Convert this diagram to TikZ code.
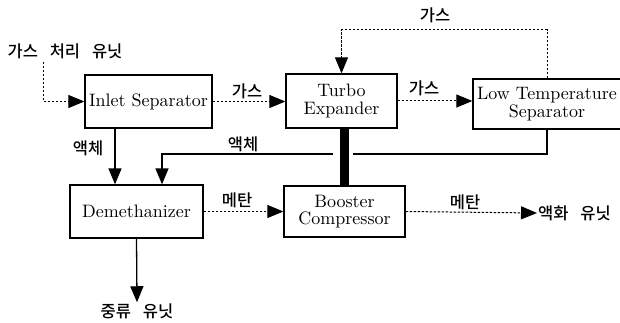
\documentclass[tikz,border=0pt]{standalone}
\usepackage{fontspec}
\setmainfont{lmroman10-regular.otf}
\newfontfamily\kr[WordSpace=3.2, UprightFont=* Medium]{Noto Sans CJK KR}
\usetikzlibrary{arrows.meta}
\tikzset{
  unit/.style={draw, line width=1.3pt, align=center, inner sep=0pt,
    font=\fontsize{18}{17.5}\selectfont},
  lbl/.style={font=\kr\fontsize{16.5}{16.5}\selectfont, inner sep=1pt},
  tip/.style={-{Triangle[length=16pt,width=13pt]}},
  gasline/.style={tip, line width=1pt, dash pattern=on 2.5pt off 1.5pt},
  liqline/.style={tip, line width=1.3pt},
}
\begin{document}
\begin{tikzpicture}[x=1pt, y=-1pt]
\useasboundingbox (0,0) rectangle (620,323);

% process units
\node[unit, minimum width=127pt, minimum height=53pt] (inlet) at (148.5,101.5) {Inlet Separator};
\node[unit, minimum width=111pt, minimum height=54pt] (turbo) at (341.5,101) {Turbo\\Expander};
\node[unit, minimum width=148pt, minimum height=50pt] (lts) at (547,104) {Low Temperature\\Separator};
\node[unit, minimum width=133pt, minimum height=53pt] (demeth) at (136.5,211.5) {Demethanizer};
\node[unit, minimum width=121pt, minimum height=51pt] (booster) at (344.5,211.5) {Booster\\Compressor};

% sources and sinks
\node[lbl] (feed) at (65,51) {가스 처리 유닛};
\node[lbl, anchor=west] (liq) at (537,213) {액화 유닛};
\node[lbl] (dist) at (137,311) {중류 유닛};

% routing points
\coordinate (fd) at (43,62);
\coordinate (loop) at (341.5,30);
\coordinate (lc) at (162,154);
\coordinate (ix) at (115,0);

% gas streams
\draw[gasline] (fd) |- (inlet.west);
\draw[gasline] (inlet.east) -- (inlet.east -| turbo.west);
\draw[gasline] (turbo.east) -- (turbo.east -| lts.west);
\draw[gasline] (lts.north) |- (loop) -- (turbo.north);

% liquid streams
\draw[liqline] (inlet.south -| ix) -- (demeth.north -| ix);
\draw[liqline] (lts.south) |- (lc) -- (lc |- demeth.north);
\fill[white] (333,149) rectangle (353,159);

% shaft between expander and compressor
\draw[line width=9pt] (turbo.south -| booster.north) -- (booster.north);

% methane streams
\draw[gasline] (demeth.east) -- (demeth.east -| booster.west);
\draw[gasline] (booster.east) -- (liq.west);

% product to fractionation
\draw[liqline] (demeth.south) -- (dist.north);

% stream labels
\node[lbl] at (435,15) {가스};
\node[lbl] at (247,91) {가스};
\node[lbl] at (424,88) {가스};
\node[lbl] at (88,148) {액체};
\node[lbl] at (243,144) {액체};
\node[lbl] at (237,200) {메탄};
\node[lbl] at (465,202) {메탄};
\end{tikzpicture}
\end{document}
